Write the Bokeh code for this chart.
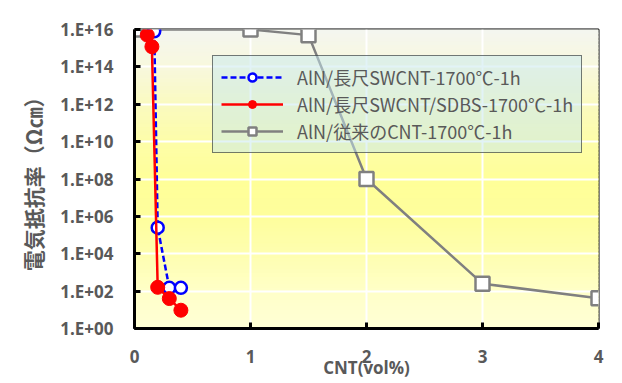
from bokeh.plotting import figure
from bokeh.models import Range1d, FixedTicker, CustomJSTickFormatter, BoxAnnotation, InlineStyleSheet
from bokeh.embed import file_html
from bokeh.resources import INLINE

# ---- data ----
blue_x = [0.17, 0.2, 0.3, 0.4]
blue_y = [8e15, 2.5e5, 1.5e2, 1.5e2]
red_x = [0.11, 0.15, 0.2, 0.3, 0.4]
red_y = [5e15, 1.2e15, 1.6e2, 4e1, 9.5]
gray_x = [0, 1, 1.5, 2, 3, 4]
gray_y = [1e16, 1e16, 5e15, 1e8, 2.5e2, 4.2e1]

series_names = ["AlN/長尺SWCNT-1700℃-1h", "AlN/長尺SWCNT/SDBS-1700℃-1h", "AlN/従来のCNT-1700℃-1h"]
x_ticks = [0, 1, 2, 3, 4]
y_ticks = [1e0, 1e2, 1e4, 1e6, 1e8, 1e10, 1e12, 1e14, 1e16]
y_tick_labels = ["1.E+00", "1.E+02", "1.E+04", "1.E+06", "1.E+08", "1.E+10", "1.E+12", "1.E+14", "1.E+16"]

TXT = "#595959"

p = figure(y_axis_type="log", output_backend="svg", toolbar_location=None,
           frame_width=464, frame_height=299,
           min_border_left=134, min_border_right=16, min_border_top=29, min_border_bottom=47,
           x_range=Range1d(0, 4), y_range=Range1d(1, 1e16))

# outer chart border (CSS outline on the plot element)
p.stylesheets = [InlineStyleSheet(css=":host { outline: 1.5px solid #d9d9d9; outline-offset: -3px; }")]

# gradient background bands (log-space)
stops = [(0.0, (0xf4, 0xf6, 0xf0)), (0.125, (0xf8, 0xf8, 0xdd)), (0.25, (0xfa, 0xfa, 0xc0)),
         (0.375, (0xfd, 0xfd, 0xa8)), (0.5, (0xff, 0xff, 0x99)), (0.625, (0xfe, 0xfe, 0x9c)),
         (0.75, (0xfe, 0xfe, 0xb0)), (0.875, (0xff, 0xff, 0xc8)), (1.0, (0xff, 0xff, 0xd6))]

def interp(f):
    for (f0, c0), (f1, c1) in zip(stops[:-1], stops[1:]):
        if f0 <= f <= f1:
            t = (f - f0) / (f1 - f0) if f1 > f0 else 0
            return "#%02x%02x%02x" % tuple(int(round(a + (b - a) * t)) for a, b in zip(c0, c1))
    return "#%02x%02x%02x" % stops[-1][1]

N = 80
for k in range(N):
    lo = 16.0 * k / N
    hi = 16.0 * (k + 1) / N
    frac = 1 - (lo + hi) / 2 / 16.0
    col = interp(frac)
    p.add_layout(BoxAnnotation(bottom=10 ** lo, top=10 ** hi, fill_color=col, fill_alpha=1,
                               line_color=col, line_alpha=1, line_width=1, level="image"))

p.background_fill_color = "#ffffd6"
p.border_fill_color = "white"
p.outline_line_color = "black"
p.outline_line_width = 2

# grids
p.xgrid.ticker = FixedTicker(ticks=x_ticks)
p.ygrid.ticker = FixedTicker(ticks=y_ticks)
p.xgrid.grid_line_color = "white"
p.ygrid.grid_line_color = "white"
p.xgrid.grid_line_width = 2
p.ygrid.grid_line_width = 2
p.ygrid.minor_grid_line_color = None

# series
p.line(gray_x, gray_y, line_color="#808080", line_width=2.5, legend_label=series_names[2])
p.scatter(gray_x, gray_y, marker="square", size=14, fill_color="white", line_color="#808080",
          line_width=2.5, legend_label=series_names[2])
p.line(blue_x, blue_y, line_color="blue", line_width=2.5, line_dash="6 3", legend_label=series_names[0])
p.scatter(blue_x, blue_y, marker="circle", size=12, fill_color="white", line_color="blue",
          line_width=2.5, legend_label=series_names[0])
p.line(red_x, red_y, line_color="red", line_width=2.5, legend_label=series_names[1])
p.scatter(red_x, red_y, marker="circle", size=14, fill_color="red", line_color="red",
          line_width=1, legend_label=series_names[1])

# axes
xa = p.xaxis[0]
ya = p.yaxis[0]
xa.ticker = FixedTicker(ticks=x_ticks)
ya.ticker = FixedTicker(ticks=y_ticks)
ya.formatter = CustomJSTickFormatter(args=dict(labels=y_tick_labels),
                                     code="return labels[Math.round(Math.log10(tick) / 2)];")
for ax in (xa, ya):
    ax.axis_line_color = "black"
    ax.axis_line_width = 3
    ax.major_tick_in = 6
    ax.major_tick_out = 0
    ax.major_tick_line_color = "black"
    ax.major_tick_line_width = 3
    ax.minor_tick_line_color = None
    ax.major_label_text_color = TXT
    ax.major_label_text_font = "Open Sans"
    ax.major_label_text_font_style = "bold"
    ax.major_label_text_font_size = "17px"
    ax.axis_label_text_color = TXT
    ax.axis_label_text_font_style = "bold"

xa.major_label_standoff = 21
ya.major_label_standoff = 21
xa.axis_label = "CNT(vol%)"
xa.axis_label_text_font = "Open Sans"
xa.axis_label_text_font_size = "17px"
xa.axis_label_standoff = -10
ya.axis_label = "電気抵抗率（Ω㎝）"
ya.axis_label_text_font = "Noto Sans CJK JP"
ya.axis_label_text_font_size = "21px"
ya.axis_label_standoff = 9

# legend
lg = p.legend[0]
lg.items = [lg.items[1], lg.items[2], lg.items[0]]
lg.location = (78, 175)
lg.label_text_font = "Noto Sans CJK JP"
lg.label_text_font_size = "18px"
lg.label_text_color = TXT
lg.glyph_width = 62
lg.glyph_height = 20
lg.label_height = 20
lg.label_standoff = 14
lg.spacing = 1
lg.padding = 8
lg.margin = 0
lg.background_fill_color = "#c6e7f0"
lg.background_fill_alpha = 0.5
lg.border_line_color = "black"
lg.border_line_width = 1.5

open("out.html", "w").write(file_html(p, INLINE))
